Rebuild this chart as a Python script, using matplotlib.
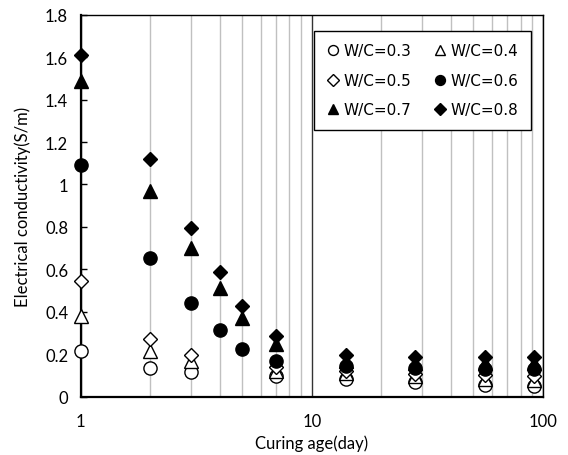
import numpy as np
import matplotlib
matplotlib.use("Agg")
import matplotlib.pyplot as plt
from matplotlib.ticker import LogLocator, FixedLocator, NullFormatter, FixedFormatter

nan = np.nan
days = [1, 2, 3, 4, 5, 7, 14, 28, 56, 91]
wc03 = [0.214, 0.135, 0.118, nan, nan, 0.095, 0.085, 0.070, 0.055, 0.050]
wc04 = [0.382, 0.214, 0.170, nan, nan, 0.120, 0.110, 0.095, 0.085, 0.080]
wc05 = [0.547, 0.272, 0.196, nan, nan, 0.140, 0.120, 0.105, 0.100, 0.095]
wc06 = [1.093, 0.652, 0.443, 0.314, 0.225, 0.170, 0.145, 0.135, 0.130, 0.130]
wc07 = [1.490, 0.968, 0.700, 0.514, 0.370, 0.250, 0.170, 0.160, 0.160, 0.160]
wc08 = [1.612, 1.120, 0.795, 0.589, 0.429, 0.285, 0.195, 0.185, 0.185, 0.185]
labels = ["W/C=0.3", "W/C=0.4", "W/C=0.5", "W/C=0.6", "W/C=0.7", "W/C=0.8"]
x_ticks = [1, 10, 100]
x_ticklabels = ["1", "10", "100"]
y_ticks = [0, 0.2, 0.4, 0.6, 0.8, 1.0, 1.2, 1.4, 1.6, 1.8]
y_ticklabels = ["0", "0.2", "0.4", "0.6", "0.8", "1", "1.2", "1.4", "1.6", "1.8"]

font = "Lato"
fig = plt.figure(figsize=(5.68, 4.56), dpi=100)
ax = fig.add_axes([0.142, 0.128, 0.814, 0.8375])

series = [wc03, wc04, wc05, wc06, wc07, wc08]
styles = [("o", "white", 9.5), ("^", "white", 9.5), ("D", "white", 7.5),
          ("o", "black", 9.5), ("^", "black", 9.5), ("D", "black", 7.5)]
handles = []
for vals, (m, fc, ms), lab in zip(series, styles, labels):
    h, = ax.plot(days, vals, linestyle="none", marker=m, markersize=ms,
                 markerfacecolor=fc, markeredgecolor="black", markeredgewidth=1.0,
                 label=lab, zorder=3, clip_on=False)
    handles.append(h)

ax.set_xscale("log")
ax.set_xlim(1, 100)
ax.set_ylim(0, 1.8)
ax.xaxis.set_major_locator(FixedLocator(x_ticks))
ax.xaxis.set_major_formatter(FixedFormatter(x_ticklabels))
ax.xaxis.set_minor_locator(LogLocator(base=10, subs=np.arange(2, 10)))
ax.xaxis.set_minor_formatter(NullFormatter())
ax.grid(True, which="minor", axis="x", color="#c0c0c0", linewidth=1.0, zorder=0)
ax.grid(True, which="major", axis="x", color="#333333", linewidth=1.0, zorder=0)
ax.set_axisbelow(True)
ax.tick_params(axis="x", which="both", length=0, pad=12, labelsize=12)
ax.set_yticks(y_ticks)
ax.set_yticklabels(y_ticklabels)
ax.tick_params(axis="y", which="major", direction="in", length=4, width=1, pad=9, labelsize=12)
for lab in ax.get_xticklabels() + ax.get_yticklabels():
    lab.set_fontfamily(font)

for s in ["left", "bottom"]:
    ax.spines[s].set_linewidth(1.6)
for s in ["top", "right"]:
    ax.spines[s].set_linewidth(1.0)

ax.set_xlabel("Curing age(day)", fontfamily=font, fontsize=12, labelpad=4)
ax.set_ylabel("Electrical conductivity(S/m)", fontfamily=font, fontsize=12, labelpad=10)

# row-major legend order for 2 columns
order = [handles[0], handles[2], handles[4], handles[1], handles[3], handles[5]]
leg = ax.legend(handles=order, ncol=2, loc="upper right", bbox_to_anchor=(0.974, 0.957),
                frameon=True, fancybox=False, edgecolor="black", framealpha=1,
                prop={"family": "DejaVu Sans", "size": 11}, markerscale=0.75,
                handlelength=0.8, handletextpad=0.3, columnspacing=1.5,
                labelspacing=0.95, borderpad=0.8, borderaxespad=0)
leg.get_frame().set_linewidth(1.0)

fig.savefig("out.png", dpi=100)
